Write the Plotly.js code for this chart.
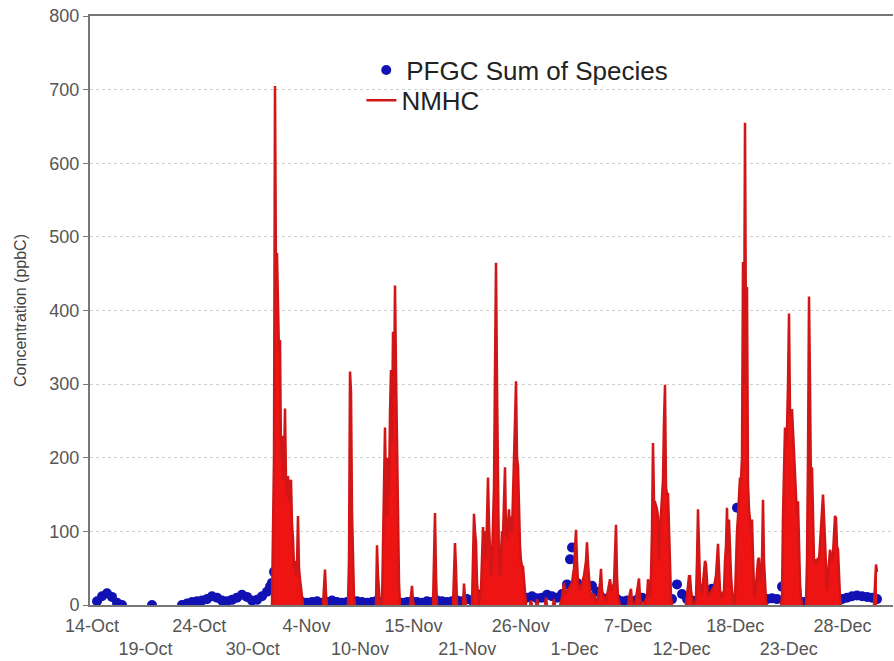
<!DOCTYPE html>
<html>
<head>
<meta charset="utf-8">
<script src="https://cdn.plot.ly/plotly-3.0.1.min.js"></script>
<style>html,body{margin:0;padding:0;background:#fff;}#chart{width:894px;height:661px;}</style>
</head>
<body>
<div id="chart"></div>
<script>
// Day numbers counted from 1-Oct (1.0 = 1-Oct 00:00, 32.3 = 1-Nov 07:12)
const tickDays = [14, 19.36, 24.72, 30.08, 35.44, 40.8, 46.16, 51.52, 56.88, 62.24, 67.6, 72.96, 78.32, 83.68, 89.04];
const tickLabels = ["14-Oct","19-Oct","24-Oct","30-Oct","4-Nov","10-Nov","15-Nov","21-Nov","26-Nov","1-Dec","7-Dec","12-Dec","18-Dec","23-Dec","28-Dec"];

// NMHC (ppbC), null = no data
const nmhcDay = [
 32.0,32.2,32.3,32.4,32.5,32.6,32.7,32.8,32.9,33.0,33.1,33.2,33.3,33.4,33.5,33.6,33.7,33.8,33.9,34.0,34.1,34.2,34.3,34.4,34.5,34.6,34.7,34.8,34.9,35.0,35.1, 35.5,
 37.1,37.2,37.3,37.4,37.5, 38.5,
 39.6,39.7,39.8,39.9,40.0,40.1,40.2,40.3, 41.0,
 42.4,42.5,42.6,42.7,42.8, 42.9,
 43.0,43.1,43.2,43.3,43.4,43.5,43.6,43.7,43.8,43.9,44.0,44.1,44.2,44.3,44.4,44.5,44.6,44.7,44.8, 45.5,
 45.8,45.9,46.0,46.1,46.2, 47.0,
 48.1,48.2,48.3,48.4,48.5, 49.0,
 50.1,50.2,50.3,50.4,50.5, 51.0,
 51.1,51.2,51.3,51.4, 51.8,
 52.0,52.1,52.2,52.3,52.4,52.5,52.6,52.7,
 52.9,53.0,53.1,53.2,53.3,53.4,53.5,53.6,53.7,53.8,53.9,54.0,54.1,54.2,54.3,54.4,54.5,54.6,54.7,54.8,54.9,55.0,55.1,55.2,55.3,55.4,55.5,55.6,55.7,55.8,55.9,56.0,56.1,56.2,56.3,56.4,56.5,56.6,56.7,56.8,56.9,57.0,57.1,57.2,57.3,57.4, 57.6,
 57.8,57.9,58.0, 58.2, 58.4,58.5,58.6, 59.0, 59.3,59.4,59.5, 59.8, 60.1,60.2,60.3, 60.6,
 60.8,61.0,61.2,61.4,61.6,61.8,62.0,62.2,62.3,62.4,62.5,62.6,62.8,63.0,63.2,63.4,63.5,63.6,63.7,63.8,64.0,64.2,64.4,64.6,64.8,64.9,65.0,65.2,65.4,65.6,65.7,65.8,65.9,66.0,66.2,66.3,66.4,66.5,66.6,66.8, 67.2,
 67.6,67.7,67.9,68.0,68.2, 68.25,
 68.3,68.4,68.6,68.7,68.8,69.0, 69.1,
 69.2,69.3,69.5,69.6,69.7,69.8,69.9,70.0,70.1,70.2,70.3,70.4,70.5,70.6,70.7,70.8,70.9,71.0,71.1,71.2,71.3,71.4,71.5,71.6,71.7,71.8,71.9,72.0, 72.5,
 73.4,73.6,73.7,73.8,73.9,74.1, 74.2,
 74.3,74.4,74.5,74.6,74.7,74.8,75.0,75.2,75.3,75.4,75.5,75.6,75.8,76.0,76.2,76.4,76.5,76.6,76.7,76.8,77.0,77.2,77.3,77.4,77.5,77.6,77.7,77.8,77.9,78.0,78.1,78.2,78.3,78.4,78.5,78.6,78.7,78.8,78.9,79.0,79.1,79.2,79.3,79.4,79.5,79.6,79.7,79.8,79.9,80.0,80.1,80.2,80.3,80.4,80.5,80.6,80.7,80.8,80.9,81.0,81.1,81.2,81.3,81.4,81.5, 82.0,
 82.9,83.0,83.1,83.2,83.3,83.4,83.5,83.6,83.7,83.8,83.9,84.0,84.1,84.2,84.3,84.4,84.5,84.6,84.7,84.8,84.9,85.0, 85.2,
 85.4,85.5,85.6,85.7,85.8,85.9,86.0,86.1,86.2,86.3,86.4,86.5,86.6,86.7,86.8,86.9,87.0,87.1,87.2,87.3,87.4,87.5,87.6,87.7,87.8,87.9,88.0,88.1,88.2,88.3,88.4,88.5,88.6,88.7,88.8,88.9, 90.0,
 92.2,92.3,92.4,92.5
];
const nmhcVal = [
 0,200,705,440,478,380,340,360,200,230,170,190,267,170,150,175,140,165,170,110,90,50,60,40,55,121,50,35,20,8,0, null,
 0,20,48,15,0, null,
 0,60,317,290,126,60,10,0, null,
 0,81,40,10,0, null,
 0,90,150,241,150,120,200,150,260,319,220,371,280,434,320,200,100,30,0, null,
 0,10,26,5,0, null,
 0,60,125,40,0, null,
 0,60,84,50,0, null,
 0,29,10,0, null,
 0,60,124,100,85,30,10,0,
 20,70,106,85,100,60,120,173,110,60,40,60,100,160,318,465,300,120,50,40,80,100,95,140,187,100,90,110,130,100,120,98,140,200,250,304,200,189,120,80,60,53,52,30,10,0, null,
 0,6,0, null, 0,8,0, null, 0,10,0, null, 0,8,0, null,
 0,10,30,15,20,25,30,50,80,102,60,30,20,30,40,60,85,57,40,20,10,15,5,10,30,49,20,10,5,20,30,35,25,20,30,60,109,40,10,0, null,
 0,10,22,5,0, null,
 0,10,30,36,10,0, null,
 0,5,10,35,20,10,40,100,220,140,140,135,130,120,60,100,130,150,170,250,299,160,150,152,90,40,10,0, null,
 0,25,39,39,20,0, null,
 0,10,60,130,80,30,15,40,60,55,20,10,15,20,25,40,60,83,50,20,10,20,60,80,132,70,116,60,40,20,5,0,10,60,100,120,140,173,170,200,466,300,655,350,432,165,130,118,100,116,60,20,10,30,50,61,64,40,30,60,143,60,20,5,0, null,
 0,10,120,200,241,220,240,300,396,260,255,266,240,200,170,160,120,141,80,30,10,0, null,
 0,60,200,419,300,150,187,90,60,62,55,59,64,60,80,100,120,150,120,80,40,20,40,60,75,66,60,70,100,121,118,80,75,40,10,0, null,
 0,30,55,45
];

// PFGC sum of species (ppbC)
const pfgcDay = [
 14.5,15.0,15.5,16.0,16.5,17.0,20.0,23.0,
 23.5,24.0,24.5,25.0,25.5,26.0,26.5,27.0,27.5,28.0,28.5,29.0,29.5,30.0,30.5,31.0,31.5,31.8,32.0,32.2,32.5,33.0,33.5,34.0,34.5,
 35.0,35.5,36.0,36.5,37.0,37.5,38.0,38.5,39.0,39.5,40.0,40.5,41.0,41.5,42.0,42.5,43.0,43.5,44.0,44.5,45.0,45.5,46.0,46.5,47.0,47.5,48.0,48.5,49.0,49.5,50.0,50.5,51.0,51.5,52.0,52.5,
 53.0,53.5,54.0,54.5,55.0,55.5,56.0,56.5,57.0,57.5,58.0,58.5,59.0,59.5,60.0,60.5,61.0,61.5,61.8,62.0,62.3,62.5,63.0,63.5,64.0,64.5,
 65.0,65.5,66.0,66.5,67.0,67.5,68.0,68.5,69.0,69.5,70.0,70.5,71.0,71.5,72.0,72.5,73.0,73.5,74.0,74.5,75.0,75.5,76.0,76.5,77.0,77.5,78.0,78.5,78.8,
 79.0,79.5,80.0,80.5,81.0,81.5,82.0,82.5,83.0,83.5,84.0,84.5,85.0,85.5,86.0,86.5,87.0,87.5,88.0,88.5,89.0,89.5,90.0,90.5,91.0,91.5,92.0,92.5
];
const pfgcVal = [
 5,12,16,11,3,0,0,0,
 2,4,5,6,8,12,10,6,5,7,10,14,11,6,7,12,18,25,30,45,38,20,10,6,5,
 4,3,4,5,3,4,6,4,3,4,3,5,4,3,4,6,4,3,5,4,3,4,5,4,3,5,4,6,5,4,5,6,5,8,6,10,
 15,20,14,10,8,6,9,7,6,10,12,9,10,14,12,10,15,28,62,78,25,30,20,22,26,18,
 10,8,6,8,5,6,5,7,10,8,6,8,6,10,8,28,15,8,6,6,10,15,22,10,8,6,8,132,15,
 14,10,8,6,7,8,9,8,25,8,6,5,4,5,6,5,7,6,5,6,8,10,12,13,12,11,10,8
];

const DAY = 86400000;
const ORIGIN = Date.UTC(2009, 9, 1);
const toMs = d => ORIGIN + (d - 1) * DAY;
const FONT = 'Arial, "Liberation Sans", sans-serif';
const nmhcX = nmhcDay.map(toMs);

const traces = [
  {
    x: pfgcDay.map(toMs), y: pfgcVal, type: 'scatter', mode: 'markers',
    name: 'PFGC Sum of Species', legend: 'legend',
    marker: {color: '#1212b4', size: 10, line: {width: 0}}
  },
  {
    // area under the NMHC trace
    x: nmhcX, y: nmhcVal, type: 'scatter', mode: 'lines',
    name: 'NMHC', showlegend: false, connectgaps: false,
    fill: 'tozeroy', fillcolor: '#ee1414',
    line: {color: '#ee1414', width: 0}, hoverinfo: 'skip'
  },
  {
    x: nmhcX, y: nmhcVal, type: 'scatter', mode: 'lines',
    name: 'NMHC', legend: 'legend2', connectgaps: false,
    line: {color: '#d01616', width: 2.5}
  }
];

const legendBase = {
  xanchor: 'left', yanchor: 'middle',
  bgcolor: 'rgba(0,0,0,0)', borderwidth: 0,
  font: {family: FONT, size: 26, color: '#222'}
};

const layout = {
  width: 894, height: 661,
  margin: {l: 90, r: 1, t: 16, b: 56},
  paper_bgcolor: '#ffffff', plot_bgcolor: '#ffffff',
  font: {family: FONT, size: 18, color: '#555'},
  showlegend: true,
  legend: Object.assign({x: 0.344, y: 0.908}, legendBase),
  legend2: Object.assign({x: 0.338, y: 0.857}, legendBase),
  xaxis: {
    type: 'date',
    range: [toMs(13.8), toMs(94.1)],
    tickvals: tickDays.map(toMs),
    ticktext: tickLabels.map((t, i) => i % 2 ? '<br>' + t : t),
    tickfont: {family: FONT, size: 18, color: '#555'},
    tickangle: 0,
    ticks: '', showgrid: false, zeroline: false,
    showline: true, linecolor: '#777', linewidth: 2, mirror: true,
    ticklabelstandoff: 3
  },
  yaxis: {
    range: [0, 800], dtick: 100, tick0: 0,
    showgrid: true, gridcolor: '#cfcfcf', griddash: 'dot', gridwidth: 1,
    zeroline: false,
    showline: true, linecolor: '#777', linewidth: 2,
    ticks: 'outside', ticklen: 5, tickcolor: '#777', tickwidth: 1,
    tickfont: {family: FONT, size: 18, color: '#555'},
    title: {text: 'Concentration (ppbC)', font: {family: FONT, size: 16, color: '#444'}, standoff: 19}
  }
};

Plotly.newPlot('chart', traces, layout, {displayModeBar: false, staticPlot: true});
</script>
</body>
</html>
